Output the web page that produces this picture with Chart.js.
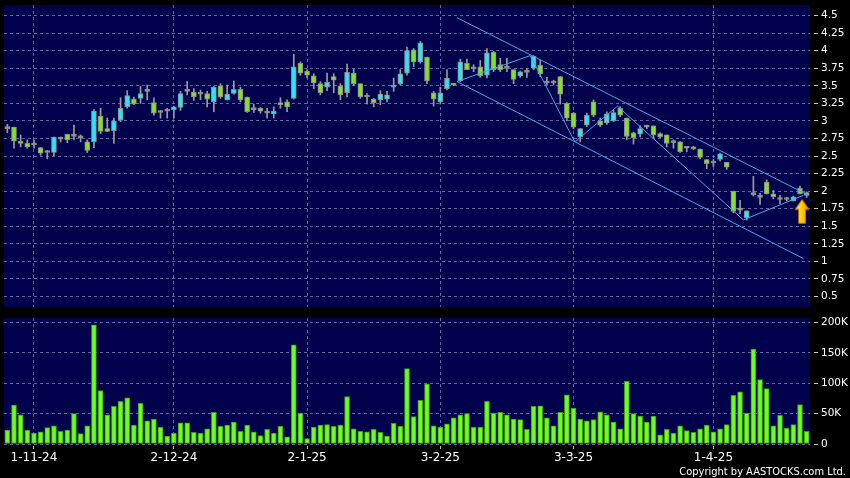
<!DOCTYPE html>
<html>
<head>
<meta charset="utf-8">
<script src="https://cdn.jsdelivr.net/npm/chart.js@4.4.0/dist/chart.umd.min.js"></script>
<style>
  html, body { margin: 0; padding: 0; background: #000; }
  #wrap { position: relative; width: 850px; height: 478px; overflow: hidden; }
  #price { position: absolute; left: 0; top: 0; }
  #vol { position: absolute; left: 0; top: 312px; }
</style>
</head>
<body>
<div id="wrap">
  <canvas id="price" width="850" height="312"></canvas>
  <canvas id="vol" width="850" height="166"></canvas>
</div>
<script>
// daily candles, 28-10-24 .. 25-4-25
const open = [2.89,2.91,2.71,2.68,2.66,2.62,2.55,2.55,2.74,2.81, 2.78,2.76,2.70,2.70,3.07,2.89,2.86,3.01,3.20,3.31,
  3.32,3.42,3.26,3.12,3.14,3.16,3.19,3.42,3.41,3.38, 3.39,3.27,3.50,3.30,3.39,3.45,3.34,3.16,3.18,3.11,
  3.10,3.23,3.27,3.32,3.82,3.71,3.64,3.53,3.48,3.63, 3.50,3.40,3.68,3.53,3.34,3.31,3.30,3.31,3.48,3.53,
  3.68,4.01,3.84,3.91,3.40,3.27,3.46,3.53,3.57,3.82, 3.74,3.77,3.65,3.98,3.80,3.75,3.73,3.64,3.69,3.75,
  3.79,3.54,3.54,3.63,3.25,3.11,2.77,2.94,3.27,3.00, 2.97,3.00,3.18,3.04,2.83,2.81,2.93,2.93,2.82,2.80,
  2.69,2.70,2.61,2.63,2.60,2.45,2.40,2.45,2.41,2.00, 1.76,1.62,1.95,1.91,2.13,1.96,1.88,1.88,1.86,2.04,
  1.98];
const high = [2.95,2.91,2.80,2.73,2.73,2.62,2.58,2.77,2.77,2.81, 2.94,2.80,2.73,3.16,3.18,3.04,3.04,3.33,3.43,3.34,
  3.49,3.51,3.33,3.15,3.18,3.21,3.42,3.56,3.46,3.44, 3.42,3.49,3.53,3.51,3.57,3.48,3.34,3.24,3.19,3.18,
  3.20,3.33,3.30,3.95,3.84,3.73,3.67,3.56,3.68,3.67, 3.53,3.81,3.74,3.53,3.39,3.32,3.43,3.42,3.61,3.73,
  4.05,4.03,4.13,3.91,3.42,3.48,3.73,3.53,3.88,3.88, 3.80,3.86,4.03,3.99,3.89,3.89,3.73,3.71,3.75,3.93,
  3.87,3.62,3.58,3.63,3.26,3.12,2.89,3.11,3.30,3.04, 3.13,3.15,3.20,3.04,2.84,2.93,2.94,2.93,2.83,2.80,
  2.73,2.71,2.63,2.64,2.60,2.45,2.45,2.54,2.41,2.00, 1.87,1.72,2.21,1.97,2.16,2.01,1.94,1.91,1.93,2.07,
  1.99];
const low = [2.83,2.61,2.63,2.61,2.61,2.51,2.46,2.50,2.70,2.69, 2.73,2.70,2.55,2.62,2.82,2.85,2.68,2.99,3.18,3.23,
  3.25,3.30,3.08,3.04,3.04,3.04,3.15,3.37,3.29,3.30, 3.20,3.13,3.32,3.30,3.38,3.27,3.12,3.12,3.11,3.04,
  3.04,3.18,3.13,3.31,3.65,3.61,3.46,3.37,3.43,3.40, 3.30,3.34,3.50,3.32,3.24,3.20,3.23,3.27,3.42,3.51,
  3.65,3.77,3.82,3.53,3.21,3.24,3.44,3.50,3.56,3.73, 3.70,3.62,3.61,3.70,3.70,3.70,3.53,3.62,3.62,3.73,
  3.63,3.51,3.51,3.24,3.00,2.89,2.70,2.92,3.06,2.92, 2.95,2.99,3.06,2.73,2.67,2.77,2.89,2.76,2.76,2.63,
  2.61,2.55,2.56,2.59,2.46,2.32,2.35,2.43,2.31,1.69, 1.68,1.59,1.93,1.81,1.96,1.89,1.82,1.86,1.86,1.96,
  1.91];
const close = [2.89,2.71,2.68,2.63,2.66,2.54,2.55,2.77,2.74,2.73, 2.78,2.76,2.58,3.14,2.85,2.85,3.00,3.18,3.36,3.24,
  3.39,3.42,3.11,3.12,3.14,3.20,3.39,3.42,3.34,3.38, 3.31,3.48,3.34,3.38,3.45,3.30,3.13,3.16,3.14,3.11,
  3.14,3.26,3.20,3.77,3.68,3.65,3.54,3.40,3.55,3.58, 3.37,3.69,3.53,3.34,3.34,3.26,3.38,3.37,3.51,3.67,
  4.00,3.84,4.11,3.57,3.31,3.40,3.61,3.51,3.84,3.73, 3.74,3.64,3.97,3.73,3.73,3.75,3.59,3.70,3.69,3.92,
  3.67,3.54,3.54,3.38,3.04,2.91,2.89,3.08,3.08,2.94, 3.10,3.12,3.08,2.78,2.76,2.89,2.91,2.80,2.77,2.68,
  2.69,2.56,2.63,2.60,2.48,2.39,2.40,2.53,2.34,1.71, 1.73,1.72,1.95,1.91,1.96,1.92,1.88,1.88,1.92,1.96,
  1.94];
const volume = [23,64,48,23,18,20,27,30,21,23, 50,17,30,196,88,48,62,70,76,31,
  67,38,41,28,13,18,35,35,19,18, 25,52,29,31,36,21,31,20,14,24,
  18,29,12,163,51,9,28,31,32,29, 31,78,25,21,20,24,19,13,34,29,
  124,45,72,99,30,28,33,43,48,50, 28,28,70,51,52,48,41,40,24,62,
  63,43,30,52,81,59,41,38,40,53, 48,36,25,103,50,46,36,46,15,24,
  18,30,22,19,25,31,20,25,32,80, 86,51,156,106,91,30,47,26,32,65,
  21].map(v => v * 1000);

const dateIdx = [4, 25, 45, 65, 85, 106];
const dateLabels = ['1-11-24', '2-12-24', '2-1-25', '3-2-25', '3-3-25', '1-4-25'];
const priceTicks = [0.5,0.75,1,1.25,1.5,1.75,2,2.25,2.5,2.75,3,3.25,3.5,3.75,4,4.25,4.5];
const volTicks = [0, 50000, 100000, 150000, 200000];

// drawn trend lines: [index, price]
const upperLine = [[67.5, 4.47], [120.3, 1.94]];
const lowerLine = [[67.5, 3.56], [119.5, 1.04]];
const zigzag = [[67.5, 3.56], [78.5, 3.93], [85.2, 2.70], [91.6, 3.21], [110.5, 1.59], [119.5, 1.94]];
const arrowAt = [119.3, 1.71];

const NAVY = '#02024c';
const GRID = 'rgba(125,125,185,0.8)';
const UP = '#2fe4f2', DOWN = '#84e02a', FLAT = '#9a9a9a', EDGE = '#8c8c8c';
const TREND = '#4aa6e8';

Chart.defaults.font.family = 'DejaVu Sans';

const plotBg = {
  id: 'plotBg',
  beforeDraw(chart) {
    const { ctx, chartArea: a } = chart;
    ctx.save();
    ctx.fillStyle = NAVY;
    ctx.fillRect(a.left, a.top, a.right - a.left, a.bottom - a.top);
    ctx.restore();
  }
};

// yellow up arrow used as a point style
const arrowImg = document.createElement('canvas');
arrowImg.width = 16; arrowImg.height = 26;
(function () {
  const g = arrowImg.getContext('2d');
  const grad = g.createLinearGradient(0, 0, 16, 0);
  grad.addColorStop(0, '#fff08a');
  grad.addColorStop(0.45, '#ffd200');
  grad.addColorStop(1, '#e58a00');
  g.beginPath();
  g.moveTo(8, 1); g.lineTo(15, 11); g.lineTo(11.5, 11); g.lineTo(11.5, 25);
  g.lineTo(4.5, 25); g.lineTo(4.5, 11); g.lineTo(1, 11); g.closePath();
  g.fillStyle = grad; g.fill();
  g.strokeStyle = '#b36b00'; g.lineWidth = 1; g.stroke();
})();

const candleColor = ctx => {
  const i = ctx.dataIndex;
  if (close[i] > open[i]) return UP;
  if (close[i] < open[i]) return DOWN;
  return FLAT;
};

const xAxis = (showLabels) => ({
  type: 'linear', min: -0.5, max: 120.5, offset: false,
  afterBuildTicks: s => { s.ticks = dateIdx.map(v => ({ value: v })); },
  afterFit: s => { s.height = showLabels ? 34 : 0; s.paddingLeft = 0; s.paddingRight = 0; },
  ticks: {
    display: showLabels, color: '#fff', font: { size: 12 }, padding: 2,
    maxRotation: 0, autoSkip: false,
    callback: (v, i) => dateLabels[i]
  },
  grid: { color: GRID, offset: false, drawTicks: showLabels, tickLength: 5, tickColor: '#bbb', tickBorderDash: [0, 2, 3, 0] },
  border: { display: false, dash: [3, 3] }
});

const yAxis = (min, max, ticks, fmt) => ({
  type: 'linear', position: 'right', min, max,
  afterBuildTicks: s => { s.ticks = ticks.map(v => ({ value: v })); },
  afterFit: s => { s.width = 40; s.paddingTop = 0; s.paddingBottom = 0; },
  ticks: { color: '#fff', font: { size: 10.5 }, padding: 3, callback: fmt },
  grid: { color: GRID, tickLength: 8, tickColor: '#ccc', tickBorderDash: [0, 4, 4, 0] },
  border: { display: false, dash: [3, 3] }
});

const toPts = arr => arr.map(p => ({ x: p[0], y: p[1] }));

new Chart(document.getElementById('price'), {
  type: 'bar',
  data: {
    datasets: [
      {
        type: 'line', data: [{ x: arrowAt[0], y: arrowAt[1] }], showLine: false,
        pointStyle: arrowImg, pointRadius: 10, order: -2
      },
      { type: 'line', data: toPts(upperLine), borderColor: TREND, borderWidth: 1, pointRadius: 0, order: -1 },
      { type: 'line', data: toPts(lowerLine), borderColor: TREND, borderWidth: 1, pointRadius: 0, order: -1 },
      { type: 'line', data: toPts(zigzag), borderColor: TREND, borderWidth: 1, pointRadius: 0, order: -1 },
      {
        data: open.map((o, i) => ({ x: i, y: [o, close[i]] })),
        backgroundColor: candleColor, borderColor: EDGE, borderWidth: 1, borderSkipped: false,
        barThickness: 5, minBarLength: 2, grouped: false
      },
      {
        data: low.map((l, i) => ({ x: i, y: [l, high[i]] })),
        backgroundColor: '#9c9c9c', borderWidth: 0, barThickness: 1, grouped: false
      }
    ]
  },
  options: {
    responsive: false, animation: false,
    layout: { autoPadding: false, padding: { left: 4, top: 5, right: 0, bottom: 5 } },
    plugins: { legend: { display: false }, tooltip: { enabled: false } },
    scales: {
      x: xAxis(false),
      y: yAxis(0.35, 4.65, priceTicks)
    }
  },
  plugins: [plotBg]
});

new Chart(document.getElementById('vol'), {
  type: 'bar',
  data: {
    datasets: [{
      data: volume.map((v, i) => ({ x: i, y: v })),
      backgroundColor: '#6cff1e', borderColor: '#3f9a12', borderWidth: 1, borderSkipped: false,
      barThickness: 5, grouped: false
    }]
  },
  options: {
    responsive: false, animation: false,
    layout: { autoPadding: false, padding: { left: 4, top: 6, right: 0, bottom: 0 } },
    plugins: { legend: { display: false }, tooltip: { enabled: false } },
    scales: {
      x: xAxis(true),
      y: yAxis(0, 207300, volTicks, v => v === 0 ? '0' : (v / 1000) + 'K')
    }
  },
  plugins: [plotBg, {
    id: 'copyright',
    afterDraw(chart) {
      const ctx = chart.ctx;
      ctx.save();
      ctx.fillStyle = '#fff';
      ctx.font = '11px "DejaVu Sans Condensed", "DejaVu Sans"';
      ctx.textAlign = 'right';
      ctx.textBaseline = 'alphabetic';
      ctx.fillText('Copyright by AASTOCKS.com Ltd.', 846, 162.5);
      ctx.restore();
    }
  }]
});
</script>
</body>
</html>
